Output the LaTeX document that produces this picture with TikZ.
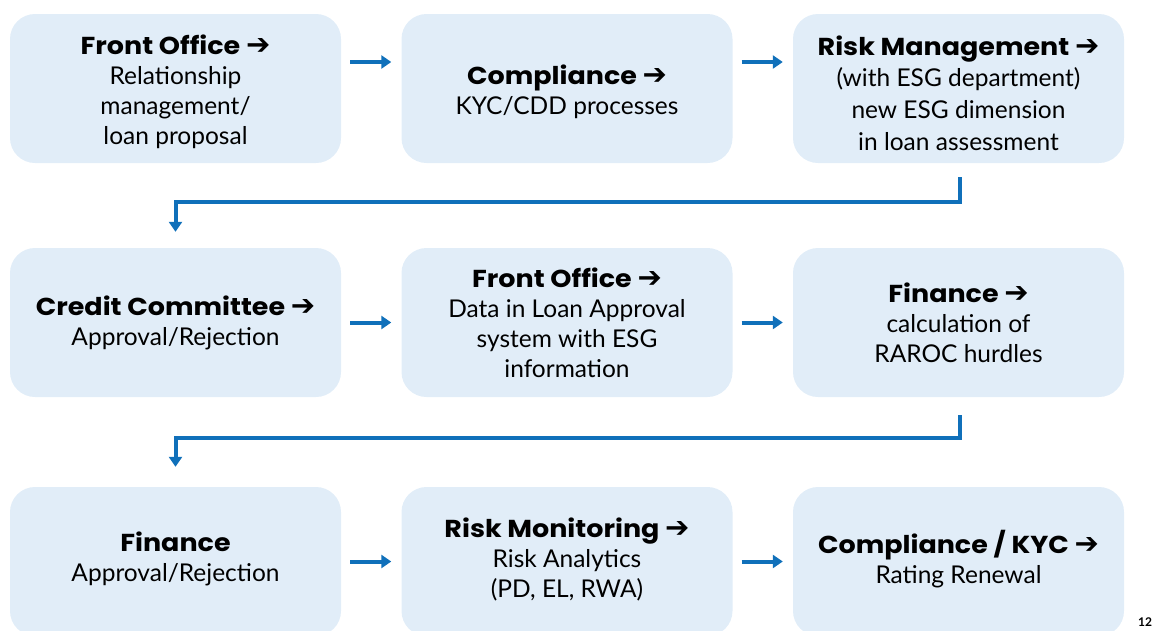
\documentclass[tikz,border=0pt]{standalone}
\usepackage{fontspec}
\setmainfont{Lato}
\newfontfamily\headfont{Poppins}[FakeStretch=1.1]
\newfontfamily\arrowfont{DejaVu Sans}
\usetikzlibrary{arrows.meta}
\definecolor{boxfill}{RGB}{225,237,248}
\definecolor{flowblue}{RGB}{16,112,186}
\newcommand{\harr}{{\arrowfont\fontsize{29pt}{29pt}\selectfont ➔}}
\newcommand{\head}[1]{{\headfont\bfseries #1}}
\tikzset{
  stage/.style={fill=boxfill, rounded corners=25pt, minimum width=331pt,
    minimum height=149pt, inner sep=0pt},
  caption/.style={inner sep=0pt, align=center,
    font=\fontsize{24.5pt}{30pt}\selectfont},
  flow/.style={draw=flowblue, line width=4pt,
    -{Triangle[length=10pt,width=13pt]}},
  turn/.style={flow, rounded corners=0pt}
}
\begin{document}
\begin{tikzpicture}[x=1pt,y=-1pt]
\useasboundingbox (0,0) rectangle (1153,630);
\clip (0,0) rectangle (1153,630);

% boxes
\node[stage] (b1) at (175.5,88.5) {};
\node[stage] (b2) at (567,88.5) {};
\node[stage] (b3) at (958.5,88.5) {};
\node[stage] (b4) at (175.5,322.5) {};
\node[stage] (b5) at (567,322.5) {};
\node[stage] (b6) at (958.5,322.5) {};
\node[stage] (b7) at (175.5,561.5) {};
\node[stage] (b8) at (567,561.5) {};
\node[stage] (b9) at (958.5,561.5) {};

% first row texts
\node[caption] (t1) at ([yshift=-3.5pt]b1.center) {\head{Front Office \harr}\\Relationship\\management/\\loan proposal};
\node[caption] (t2) at ([yshift=-3pt]b2.center) {\head{Compliance \harr}\\KYC/CDD processes};
\node[caption, font=\fontsize{24.5pt}{31.7pt}\selectfont] (t3) at ([yshift=-4.5pt]b3.center) {\head{Risk Management \harr}\\(with ESG department)\\new ESG dimension\\in loan assessment};

% second row texts
\node[caption] (t4) at (b4.center) {\head{Credit Committee \harr}\\Approval/Rejection};
\node[caption] (t5) at (b5.center) {\head{Front Office \harr}\\Data in Loan Approval\\system with ESG\\information};
\node[caption] (t6) at (b6.center) {\head{Finance \harr}\\calculation of\\RAROC hurdles};

% third row texts
\node[caption] (t7) at ([yshift=2.5pt]b7.center) {\head{Finance}\\Approval/Rejection};
\node[caption] (t8) at ([yshift=2.5pt]b8.center) {\head{Risk Monitoring \harr}\\Risk Analytics\\(PD, EL, RWA)};
\node[caption] (t9) at ([yshift=2.5pt]b9.center) {\head{Compliance / KYC \harr}\\Rating Renewal};

% arrows within rows
\draw[flow] ([xshift=9pt,yshift=26.5pt]b1.east) -- ([xshift=-10pt,yshift=26.5pt]b2.west);
\draw[flow] ([xshift=9pt,yshift=26.5pt]b2.east) -- ([xshift=-10pt,yshift=26.5pt]b3.west);
\draw[flow] ([xshift=9pt]b4.east) -- ([xshift=-10pt]b5.west);
\draw[flow] ([xshift=9pt]b5.east) -- ([xshift=-10pt]b6.west);
\draw[flow] ([xshift=9pt]b7.east) -- ([xshift=-10pt]b8.west);
\draw[flow] ([xshift=9pt]b8.east) -- ([xshift=-10pt]b9.west);

% arrows between rows
\draw[turn] ([xshift=1.5pt,yshift=-14pt]b3.south) -- ++(0,25) -| ([yshift=16pt]b4.north);
\draw[turn] ([xshift=1.5pt,yshift=-18pt]b6.south) -- ++(0,23) -| ([yshift=20pt]b7.north);

% page number
\node[anchor=west, inner sep=0pt, font=\bfseries\fontsize{12pt}{12pt}\selectfont] (pg) at (1138,622) {12};
\end{tikzpicture}
\end{document}
